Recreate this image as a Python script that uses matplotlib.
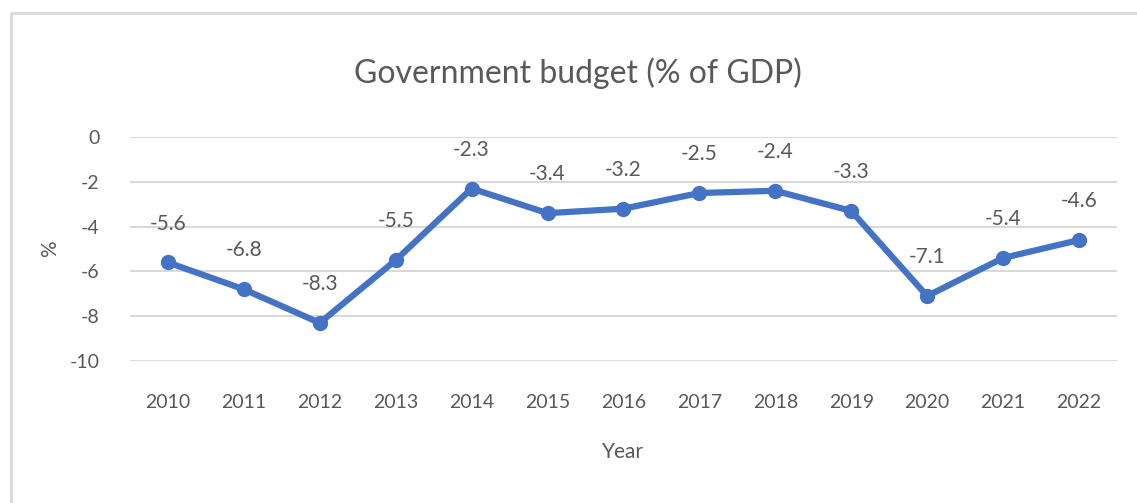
import matplotlib.pyplot as plt
from matplotlib.lines import Line2D

years = [2010, 2011, 2012, 2013, 2014, 2015, 2016, 2017, 2018, 2019, 2020, 2021, 2022]
budget = [-5.6, -6.8, -8.3, -5.5, -2.3, -3.4, -3.2, -2.5, -2.4, -3.3, -7.1, -5.4, -4.6]
yticks = [0, -2, -4, -6, -8, -10]

plt.rcParams['font.family'] = ['Lato', 'DejaVu Sans']
text_col = '#595959'
grid_col = '#D9D9D9'
blue = '#4472C4'

fig = plt.figure(figsize=(11.37, 5.03), dpi=100)
ax = fig.add_axes([0.1143, 0.2823, 0.8681, 0.4453])

x = list(range(len(years)))
ax.plot(x, budget, color=blue, lw=4.5, marker='o', ms=10, solid_capstyle='round',
        solid_joinstyle='round', zorder=3)

for xi, v in zip(x, budget):
    ax.annotate(f'{v:.1f}', (xi, v), xytext=(0, 28), textcoords='offset points',
                ha='center', va='center', fontsize=15, color=text_col)

ax.set_xlim(-0.5, len(years) - 0.5)
ax.set_ylim(-10, 0)
ax.set_yticks(yticks)
ax.set_yticklabels([str(t) for t in yticks])
ax.set_xticks(x)
ax.set_xticklabels([str(y) for y in years])
ax.tick_params(length=0, labelsize=14, labelcolor=text_col)
ax.tick_params(axis='x', pad=24)
ax.tick_params(axis='y', pad=22)
ax.grid(axis='y', color=grid_col, lw=1.5)
ax.set_axisbelow(True)
for s in ax.spines.values():
    s.set_visible(False)

ax.set_xlabel('Year', fontsize=15, color=text_col, labelpad=22)
ax.set_ylabel('%', fontsize=15, color=text_col)
ax.yaxis.set_label_coords(-0.071, 0.5)
fig.text(0.508, 0.855, 'Government budget (% of GDP)', ha='center', va='center',
         fontsize=23, color=text_col)

# light frame around the chart area
fig.add_artist(Line2D([0.0097, 0.0097, 1.0], [0.0, 0.974, 0.974],
                      transform=fig.transFigure, color=grid_col, lw=2))

fig.savefig('out.png', dpi=100)
